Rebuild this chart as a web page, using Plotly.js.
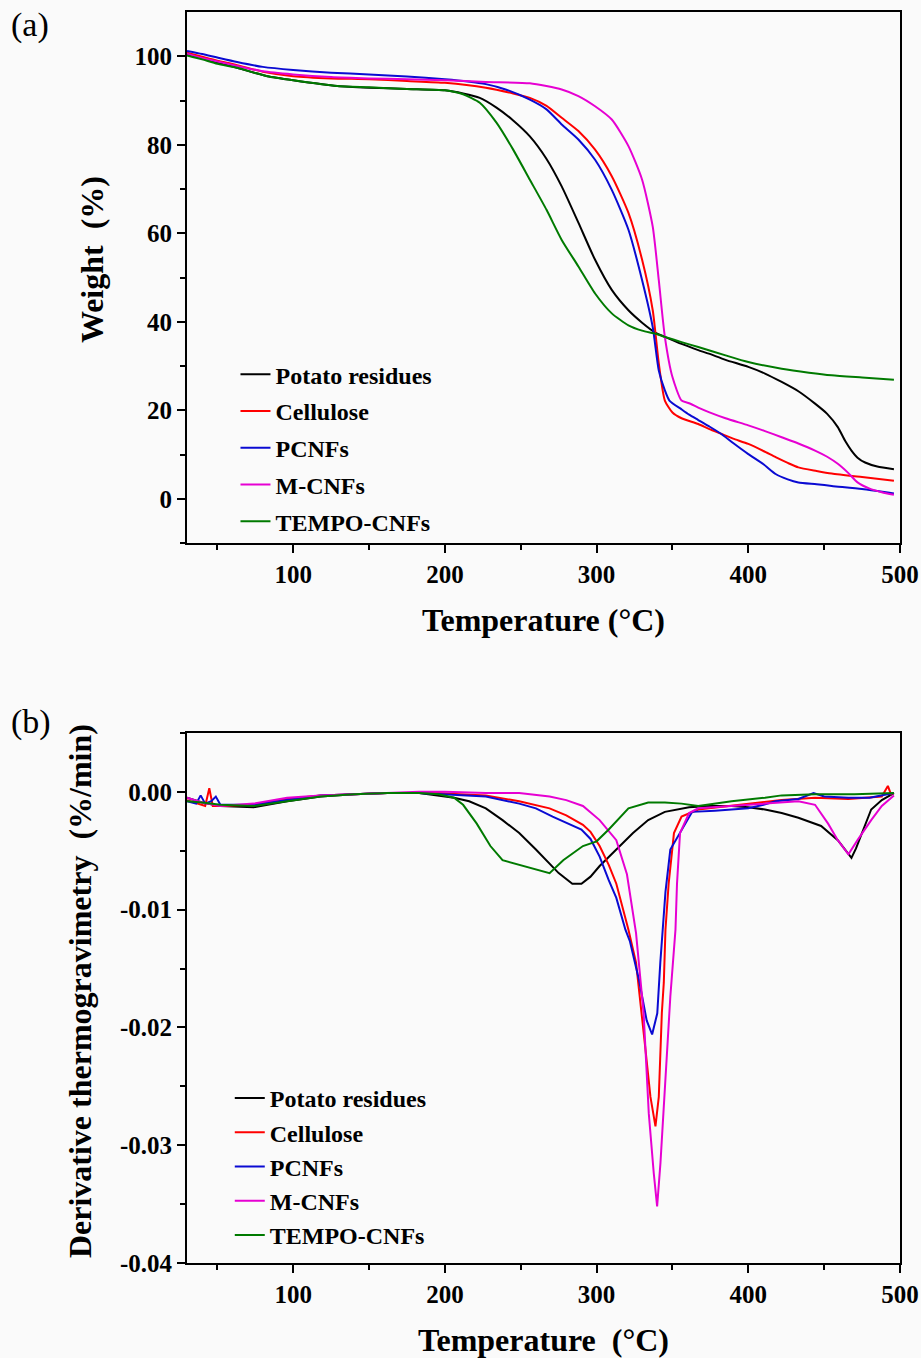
<!DOCTYPE html>
<html>
<head>
<meta charset="utf-8">
<script src="https://cdn.plot.ly/plotly-3.0.1.min.js"></script>
<style>html,body{margin:0;padding:0;background:#fafafa;}#chart{width:921px;height:1358px;}</style>
</head>
<body>
<div id="chart"></div>
<script>
// ---------- series names & colours ----------
const seriesNames = ["Potato residues", "Cellulose", "PCNFs", "M-CNFs", "TEMPO-CNFs"];
const seriesColors = ["#000000", "#ff0000", "#0a0ad2", "#e600d2", "#007a00"];

// ---------- (a) TGA: temperature (°C) / weight (%) ----------
const tgaT_potato = [30,40,50,63,75,83,100,129,150,175,200,212,223,234,245,256,267,277,288,299,310,321,330,339,345,356,367,374,385,400,411,422,433,444,452,459,464,468,472,477,485,496];
const tgaW_potato = [100.3,99.6,98.6,97.4,96.2,95.5,94.6,93.3,92.9,92.6,92.3,91.6,90.6,88.4,85.5,81.9,76.8,70.6,62.4,54,47.2,42.6,39.8,37.5,36.6,35,33.6,32.8,31.4,29.8,28.3,26.4,24.3,21.5,19.2,16.2,13,10.9,9.3,8.2,7.3,6.7];

const tgaT_cellulose = [30,40,50,63,80,100,125,150,175,200,227,245,256,267,277,288,299,310,321,330,337,341,345,350,356,367,374,382,390,400,410,418,426,433,445,455,475,496];
const tgaW_cellulose = [100.8,99.9,99,98,96.5,95.5,95,94.8,94.4,94,92.9,91.6,90.6,88.8,86.1,83.1,78.9,72.9,64.6,54,42.6,30.6,22.2,19.5,18.2,16.9,15.8,14.7,13.6,12.4,10.8,9.4,8.1,7.1,6.3,5.7,4.9,4.1];

const tgaT_pcnf = [30,40,50,63,80,100,125,150,175,200,215,227,240,256,267,277,288,299,310,321,330,337,341,345,348,356,361,367,374,382,390,400,410,418,426,433,445,455,475,496];
const tgaW_pcnf = [101.2,100.5,99.7,98.7,97.6,96.9,96.3,95.9,95.4,94.8,94.3,93.7,92.5,90.2,88,84.6,81.2,76.6,69.8,60.8,49.4,38.8,29,24.5,22.2,20.2,19,17.8,16.4,14.7,12.6,10.1,7.8,5.6,4.4,3.7,3.3,2.9,2.2,1.2];

const tgaT_mcnf = [30,40,50,63,80,100,125,150,175,200,227,256,277,288,299,310,321,330,337,341,345,350,356,361,367,374,385,400,411,422,433,444,452,459,466,472,480,488,496];
const tgaW_mcnf = [100.6,99.6,98.8,97.8,96.6,95.9,95.3,95,94.8,94.6,94.2,93.9,92.5,91,88.7,85.7,79.7,72.1,61.5,49.4,36.6,27.5,22.2,21.6,20.6,19.6,18.2,16.6,15.3,13.9,12.5,10.9,9.5,7.9,5.8,3.7,2.3,1.5,0.9];

const tgaT_tempo = [30,40,50,63,75,83,100,129,150,175,200,212,223,234,245,256,267,277,288,299,310,321,330,339,345,356,367,385,400,422,440,455,475,496];
const tgaW_tempo = [100.2,99.3,98.3,97.4,96.2,95.5,94.6,93.3,93,92.6,92.3,91.4,89.5,85,78.9,72.1,65.3,58.5,52.5,46.4,41.9,39.2,38,37.3,36.6,35.4,34.3,32.4,30.9,29.4,28.5,27.9,27.4,26.9];

// ---------- (b) DTG: temperature (°C) / derivative (%/min) ----------
const dtgT_potato = [30,40,52,74,96,118,140,162,183,196,206,216,227,238,249,260,269,275,284,290,296,302,313,324,334,345,361,375,389,400,411,422,433,448,459,466,468,471,475,481,488,496];
const dtgD_potato = [-0.0005,-0.0009,-0.0012,-0.0013,-0.0008,-0.0004,-0.0002,-0.0001,-0.0001,-0.0003,-0.0005,-0.0008,-0.0014,-0.0024,-0.0035,-0.0049,-0.0061,-0.0069,-0.0078,-0.0078,-0.0072,-0.0063,-0.0049,-0.0035,-0.0024,-0.0017,-0.0013,-0.0012,-0.0012,-0.0013,-0.0015,-0.0018,-0.0022,-0.0029,-0.0041,-0.0053,-0.0056,-0.0048,-0.0035,-0.0015,-0.0007,-0.0001];

const dtgT_cellulose = [30,38,42,44.7,47,52,74,96,118,140,162,183,196,210,227,249,260,269,280,291,296,302,308,313,321,326,332,335.5,338.8,341,343,344.3,345.4,347.5,351,356,367,389,411,422,444,466,488,492,494,496];
const dtgD_cellulose = [-0.0007,-0.001,-0.0012,0.0003,-0.0012,-0.0012,-0.0011,-0.0006,-0.0003,-0.0002,-0.0001,-0.0001,-0.0001,-0.0002,-0.0003,-0.0008,-0.0011,-0.0014,-0.002,-0.0028,-0.0034,-0.0046,-0.0062,-0.0078,-0.0117,-0.0145,-0.0216,-0.0259,-0.0284,-0.0259,-0.0188,-0.0162,-0.0117,-0.0078,-0.0035,-0.0021,-0.0015,-0.0012,-0.0009,-0.0007,-0.0005,-0.0006,-0.0004,0.0005,-0.0002,-0.0001];

const dtgT_pcnf = [30,36,39,42,46,49,52,74,96,118,140,162,183,196,210,227,249,260,271,280,290,296,302,308,313,319,322,328,333,336.6,340,342,345.4,348.6,356,363,378,390,400,410,418,433,443,450,466,480,496];
const dtgD_pcnf = [-0.0008,-0.001,-0.0003,-0.001,-0.0008,-0.0004,-0.0011,-0.0011,-0.0007,-0.0003,-0.0002,-0.0001,-0.0001,-0.0002,-0.0003,-0.0004,-0.001,-0.0014,-0.0021,-0.0026,-0.0032,-0.004,-0.0055,-0.0075,-0.009,-0.0117,-0.0127,-0.016,-0.0194,-0.0206,-0.0188,-0.0145,-0.0085,-0.0049,-0.0032,-0.0017,-0.0016,-0.0015,-0.0014,-0.0011,-0.0008,-0.0006,-0.0001,-0.0004,-0.0005,-0.0005,-0.0001];

const dtgT_mcnf = [30,40,52,74,96,118,140,162,183,200,227,249,269,280,291,302,313,320,326,331,334.4,337.7,339.9,342.1,345.4,348.6,352,353,355,361,367,389,411,433,444,452.6,459,466,472,481,488,496];
const dtgD_mcnf = [-0.0005,-0.0009,-0.0012,-0.001,-0.0005,-0.0003,-0.0002,-0.0001,0,0,-0.0001,-0.0001,-0.0004,-0.0007,-0.0012,-0.0024,-0.0041,-0.007,-0.012,-0.0188,-0.0273,-0.0324,-0.0352,-0.0315,-0.0244,-0.0174,-0.0117,-0.0078,-0.0035,-0.0018,-0.0014,-0.0012,-0.001,-0.0008,-0.0011,-0.0027,-0.0041,-0.0053,-0.0041,-0.0024,-0.0012,-0.0003];

const dtgT_tempo = [30,40,52,74,96,118,140,162,183,196,206,212,221,230,238,249,260,269,278,291,300,308,321,334,345,356,367,389,411,422,444,470,496];
const dtgD_tempo = [-0.0008,-0.0009,-0.0011,-0.0012,-0.0008,-0.0004,-0.0002,-0.0001,-0.0001,-0.0002,-0.0005,-0.0011,-0.0027,-0.0046,-0.0058,-0.0062,-0.0066,-0.0069,-0.0058,-0.0046,-0.0042,-0.0032,-0.0014,-0.0009,-0.0009,-0.001,-0.0012,-0.0008,-0.0005,-0.0003,-0.0002,-0.0002,-0.0001];

// ---------- tick labels ----------
const xTickVals = [100, 200, 300, 400, 500];
const xMinorVals = [50, 150, 250, 350, 450];
const wTickVals = [0, 20, 40, 60, 80, 100];
const wMinorVals = [-10, 10, 30, 50, 70, 90];
const dTickVals = [0, -0.01, -0.02, -0.03, -0.04];
const dTickText = ["0.00", "-0.01", "-0.02", "-0.03", "-0.04"];
const dMinorVals = [0.005, -0.005, -0.015, -0.025, -0.035];

// ---------- build traces ----------
const tgaX = [tgaT_potato, tgaT_cellulose, tgaT_pcnf, tgaT_mcnf, tgaT_tempo];
const tgaY = [tgaW_potato, tgaW_cellulose, tgaW_pcnf, tgaW_mcnf, tgaW_tempo];
const dtgX = [dtgT_potato, dtgT_cellulose, dtgT_pcnf, dtgT_mcnf, dtgT_tempo];
const dtgY = [dtgD_potato, dtgD_cellulose, dtgD_pcnf, dtgD_mcnf, dtgD_tempo];

const traces = [];
seriesNames.forEach((n, i) => {
  traces.push({x: tgaX[i], y: tgaY[i], type: 'scatter', mode: 'lines', name: n,
    line: {color: seriesColors[i], width: 2, shape: 'spline', smoothing: 0.6},
    xaxis: 'x', yaxis: 'y', legend: 'legend', legendgroup: 'a' + i});
});
seriesNames.forEach((n, i) => {
  traces.push({x: dtgX[i], y: dtgY[i], type: 'scatter', mode: 'lines', name: n,
    line: {color: seriesColors[i], width: 2},
    xaxis: 'x2', yaxis: 'y2', legend: 'legend2'});
});

const serif = 'Liberation Serif, Times New Roman, serif';
const tickFont = {family: serif, size: 25, color: '#000', weight: 'bold'};
const titleFont = {family: serif, size: 32, color: '#000', weight: 'bold'};

function xAxis(anchor, titleText, standoff) {
  return {anchor: anchor, range: [30, 500], tickmode: 'array', tickvals: xTickVals,
    ticks: 'outside', ticklen: 8, tickwidth: 2, tickcolor: '#000',
    minor: {tickmode: 'array', tickvals: xMinorVals, ticks: 'outside', ticklen: 5, tickwidth: 2, tickcolor: '#000'},
    showline: true, linewidth: 2, linecolor: '#000', mirror: true,
    showgrid: false, zeroline: false, tickfont: tickFont,
    title: {text: titleText, font: titleFont, standoff: standoff}};
}

function yAxisBase() {
  return {ticks: 'outside', ticklen: 8, tickwidth: 2, tickcolor: '#000',
    showline: true, linewidth: 2, linecolor: '#000', mirror: true,
    showgrid: false, zeroline: false, tickfont: tickFont};
}

const layout = {
  width: 921, height: 1358,
  margin: {l: 187, r: 21, t: 12, b: 95},
  paper_bgcolor: '#fafafa', plot_bgcolor: '#fafafa',
  showlegend: true,
  xaxis: Object.assign(xAxis('y', 'Temperature (°C)', 22), {domain: [0, 1]}),
  xaxis2: Object.assign(xAxis('y2', 'Temperature  (°C)', 22), {domain: [0, 1]}),
  yaxis: Object.assign(yAxisBase(), {domain: [0.5755, 1], anchor: 'x', range: [-10, 110], tickmode: 'array', tickvals: wTickVals,
    minor: {tickmode: 'array', tickvals: wMinorVals, ticks: 'outside', ticklen: 5, tickwidth: 2, tickcolor: '#000'}}),
  yaxis2: Object.assign(yAxisBase(), {domain: [0, 0.4237], anchor: 'x2', range: [-0.04, 0.005], tickmode: 'array', tickvals: dTickVals, ticktext: dTickText,
    minor: {tickmode: 'array', tickvals: dMinorVals, ticks: 'outside', ticklen: 5, tickwidth: 2, tickcolor: '#000'}}),
  legend: {x: 0.068, y: 0.728, xanchor: 'left', yanchor: 'top', bgcolor: 'rgba(0,0,0,0)',
    font: {family: serif, size: 24, color: '#000', weight: 'bold'}, tracegroupgap: 2.5, itemwidth: 30},
  legend2: {x: 0.06, y: 0.1495, xanchor: 'left', yanchor: 'top', bgcolor: 'rgba(0,0,0,0)',
    font: {family: serif, size: 24, color: '#000', weight: 'bold'}, itemwidth: 30},
  annotations: [
    {text: '(a)', xref: 'paper', yref: 'paper', x: -0.25, y: 0.99, xanchor: 'left', yanchor: 'middle', showarrow: false,
      font: {family: serif, size: 34, color: '#000'}},
    {text: '(b)', xref: 'paper', yref: 'paper', x: -0.25, y: 0.4325, xanchor: 'left', yanchor: 'middle', showarrow: false,
      font: {family: serif, size: 34, color: '#000'}},
    {text: 'Weight  (%)', xref: 'paper', yref: 'paper', x: -0.1332, y: 0.8017, xanchor: 'center', yanchor: 'middle',
      textangle: -90, showarrow: false, font: titleFont},
    {text: 'Derivative thermogravimetry  (%/min)', xref: 'paper', yref: 'paper', x: -0.15, y: 0.2174, xanchor: 'center', yanchor: 'middle',
      textangle: -90, showarrow: false, font: titleFont}
  ]
};

Plotly.newPlot('chart', traces, layout, {displayModeBar: false, staticPlot: true});
</script>
</body>
</html>
